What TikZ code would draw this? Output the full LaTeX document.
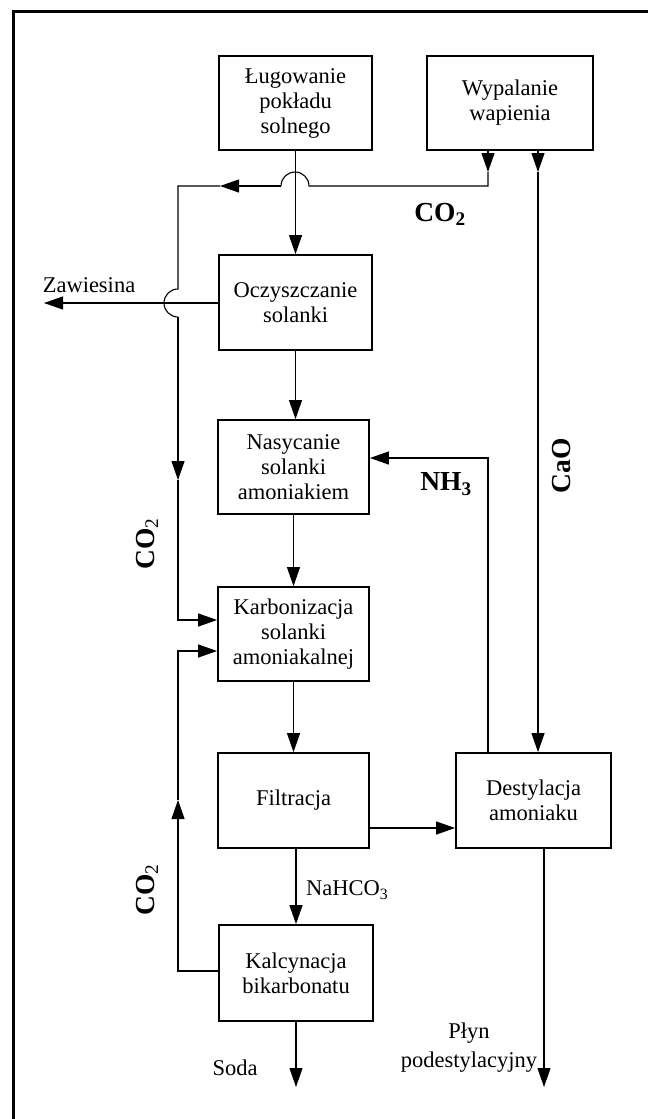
\documentclass[tikz,border=0pt]{standalone}
\usepackage{fontspec}
\setmainfont{Liberation Serif}
\usetikzlibrary{arrows.meta,calc}
\tikzset{
  box/.style={draw, line width=1.8pt, align=center, inner sep=0pt, font=\fontsize{22.5}{25}\selectfont},
  ln/.style={line width=1.1pt},
  arr/.style={ln, -{Triangle[length=19pt,width=13pt]}},
  lbl/.style={align=center, inner sep=0pt, font=\fontsize{22.5}{29}\selectfont},
  blbl/.style={inner sep=0pt, font=\fontsize{27.5}{27.5}\selectfont\bfseries},
}
\begin{document}
\begin{tikzpicture}[x=1pt,y=-1pt]
\useasboundingbox (0,0) rectangle (648,1119);
\draw[line width=3pt] (13,1119) -- (13,11) -- (648,11);

\node[box, minimum width=153pt, minimum height=94pt] (L) at (295.5,103) {Ługowanie\\pokładu\\solnego};
\node[box, minimum width=166pt, minimum height=94pt] (W) at (510,103) {Wypalanie\\wapienia};
\node[box, minimum width=153pt, minimum height=95pt] (O) at (295.5,302.5) {Oczyszczanie\\solanki};
\node[box, minimum width=151pt, minimum height=94pt] (N) at (293.5,467) {Nasycanie\\solanki\\amoniakiem};
\node[box, minimum width=151pt, minimum height=94pt] (K) at (293.5,634) {Karbonizacja\\solanki\\amoniakalnej};
\node[box, minimum width=151pt, minimum height=95pt] (F) at (293.5,800.5) {Filtracja};
\node[box, minimum width=155pt, minimum height=95pt] (D) at (533.5,800.5) {Destylacja\\amoniaku};
\node[box, minimum width=154pt, minimum height=96pt] (C) at (296,973) {Kalcynacja\\bikarbonatu};

\node[lbl] (zaw) at (89,285) {Zawiesina};
\node[lbl, anchor=west] (nah) at (306,890) {NaHCO\textsubscript{3}};
\node[lbl] (soda) at (235,1068) {Soda};
\node[lbl] (plyn) at (469,1048) {Płyn\\podestylacyjny};
\node[blbl] (co2a) at (440,214) {CO\textsubscript{2}};
\node[blbl] (nh3) at (446,484) {NH\textsubscript{3}};
\node[blbl, rotate=90] (cao) at (562,466) {CaO};
\node[blbl, rotate=90] (co2b) at (147,544) {CO\textsubscript{\mdseries 2}};
\node[blbl, rotate=90] (co2c) at (147,890) {CO\textsubscript{\mdseries 2}};

% main line
\draw[arr] (L.south) -- (L.south |- O.north);
\draw[arr] (O.south) -- (O.south |- N.north);
\draw[arr] (N.south) -- (N.south |- K.north);
\draw[arr] (K.south) -- (K.south |- F.north);
\draw[arr] (C.north |- F.south) -- (C.north);
\draw[arr] (C.south) -- (C.south |- 0,1087);
\draw[arr] (O.west |- 0,303) -- (44,303);
\draw[arr] (F.east |- 0,828) -- (D.west |- 0,828);
\draw[arr] (D.south -| 544,0) -- (544,1087);

% CaO
\coordinate (c1) at (538,172);
\draw[arr] (W.south -| c1) -- (c1);
\draw[arr] (c1) -- (D.north -| c1);

% NH3
\draw[arr] (D.north -| 488,0) -- (488,458) -- (N.east |- 0,458);

% CO2 top loop
\coordinate (a1) at (488,172);
\draw[arr] (W.south -| a1) -- (a1);
\draw[ln] (a1) -- (488,186) -- (309,186) arc[start angle=0, end angle=180, radius=14pt];
\draw[arr] (281,186) -- (220,186);
\draw[ln] (220,186) -- (178,186) -- (178,289) arc[start angle=90, end angle=270, radius=14pt];
\draw[arr] (178,317) -- (178,480);
\draw[arr] (178,480) -- (178,620) -- (K.west |- 0,620);

% CO2 bottom loop
\draw[arr] (C.west |- 0,971) -- (178,971) -- (178,800);
\draw[arr] (178,800) -- (178,651) -- (K.west |- 0,651);
\end{tikzpicture}
\end{document}
